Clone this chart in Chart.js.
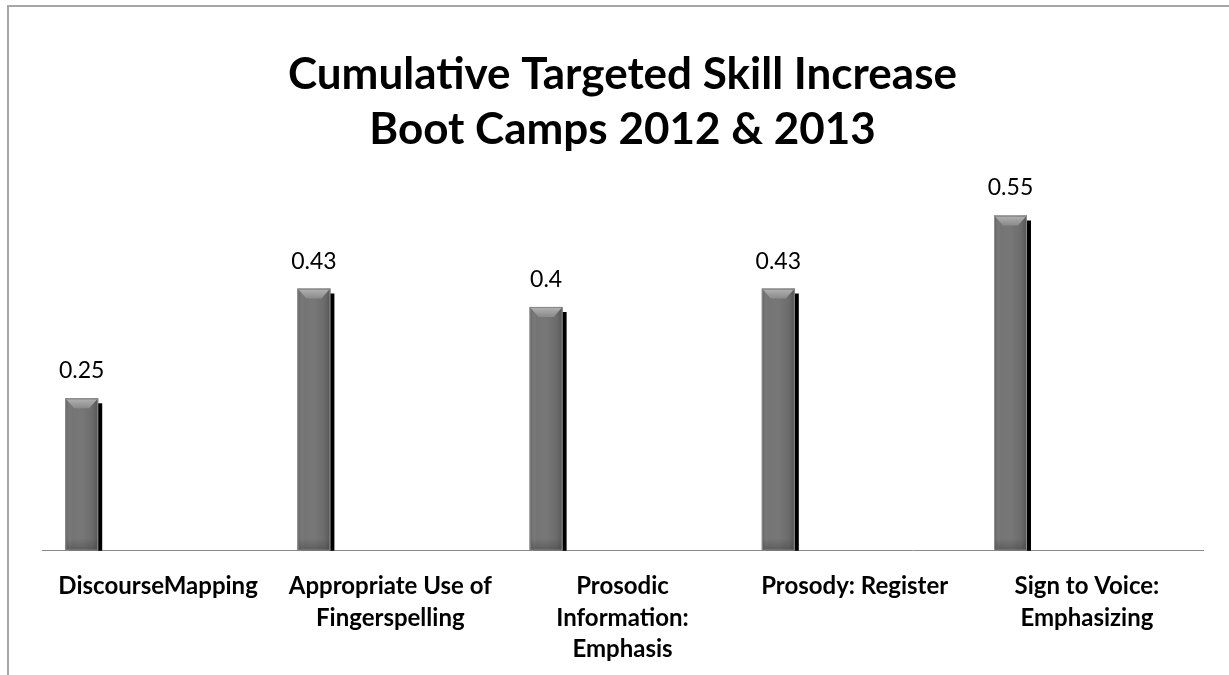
<!DOCTYPE html>
<html>
<head>
<meta charset="utf-8">
<script src="https://cdn.jsdelivr.net/npm/chart.js@4.4.1/dist/chart.umd.min.js"></script>
<style>
  html, body { margin: 0; padding: 0; background: #ffffff; }
  #wrap { position: relative; width: 1229px; height: 675px; }
  canvas { display: block; }
</style>
</head>
<body>
<div id="wrap"><canvas id="c" width="1229" height="675"></canvas></div>
<script>
const titleLines = ['Cumulative Targeted Skill Increase', 'Boot Camps 2012 & 2013'];
const categories = [
  ['DiscourseMapping'],
  ['Appropriate Use of', 'Fingerspelling'],
  ['Prosodic', 'Information:', 'Emphasis'],
  ['Prosody: Register'],
  ['Sign to Voice:', 'Emphasizing']
];
const skillIncrease = [0.25, 0.43, 0.4, 0.43, 0.55];
const valueLabels = ['0.25', '0.43', '0.4', '0.43', '0.55'];

const FONT = 'Lato, "Open Sans", "Liberation Sans", sans-serif';

const framePlugin = {
  id: 'frame',
  beforeDraw(chart) {
    const ctx = chart.ctx;
    ctx.save();
    ctx.strokeStyle = '#a6a6a6';
    ctx.lineWidth = 2;
    ctx.beginPath();
    ctx.moveTo(8, 675);
    ctx.lineTo(8, 6);
    ctx.lineTo(1229, 6);
    ctx.stroke();
    ctx.restore();
  }
};

const shadowPlugin = {
  id: 'barShadow',
  beforeDatasetDraw(chart, args) {
    const ctx = chart.ctx;
    ctx.save();
    ctx.shadowColor = '#000000';
    ctx.shadowOffsetX = 4;
    ctx.shadowOffsetY = 5;
    ctx.shadowBlur = 0;
  },
  afterDatasetDraw(chart, args) {
    chart.ctx.restore();
  }
};

const bevelPlugin = {
  id: 'bevel',
  afterDatasetsDraw(chart) {
    const ctx = chart.ctx;
    const meta = chart.getDatasetMeta(0);
    meta.data.forEach((bar, i) => {
      const w = bar.width;
      const left = bar.x - w / 2, right = bar.x + w / 2;
      const top = bar.y, bottom = bar.base;
      ctx.save();
      // horizontal shading
      const gh = ctx.createLinearGradient(left, 0, right, 0);
      gh.addColorStop(0, 'rgba(40,40,40,0.25)');
      gh.addColorStop(0.2, 'rgba(255,255,255,0.03)');
      gh.addColorStop(0.5, 'rgba(255,255,255,0.05)');
      gh.addColorStop(0.8, 'rgba(40,40,40,0.05)');
      gh.addColorStop(1, 'rgba(20,20,20,0.3)');
      ctx.fillStyle = gh;
      ctx.fillRect(left, top, w, bottom - top);
      // top bevel
      const g = ctx.createLinearGradient(0, top, 0, top + 10);
      g.addColorStop(0, '#b4b4b4');
      g.addColorStop(1, '#8a8a8a');
      ctx.fillStyle = g;
      ctx.beginPath();
      ctx.moveTo(left + 1, top + 1);
      ctx.lineTo(right - 1, top + 1);
      ctx.lineTo(right - 9, top + 10);
      ctx.lineTo(left + 9, top + 10);
      ctx.closePath();
      ctx.fill();
      // bottom darker band
      const gb = ctx.createLinearGradient(0, bottom - 12, 0, bottom);
      gb.addColorStop(0, 'rgba(60,60,60,0)');
      gb.addColorStop(1, 'rgba(60,60,60,0.45)');
      ctx.fillStyle = gb;
      ctx.fillRect(left + 1, bottom - 12, w - 2, 11);
      // edge
      ctx.strokeStyle = '#8c8c8c';
      ctx.lineWidth = 1;
      ctx.strokeRect(left + 0.5, top + 0.5, w - 1, bottom - top - 1);
      ctx.restore();
      // value label
      ctx.save();
      ctx.fillStyle = '#000000';
      ctx.font = '23px ' + FONT;
      ctx.textAlign = 'center';
      ctx.textBaseline = 'alphabetic';
      ctx.fillText(valueLabels[i], bar.x, top - 20);
      ctx.restore();
    });
  }
};

new Chart(document.getElementById('c'), {
  type: 'bar',
  data: {
    labels: categories,
    datasets: [
      { label: 'Skill increase', data: skillIncrease, backgroundColor: '#707070', borderWidth: 0,
        categoryPercentage: 0.987, barPercentage: 0.432 },
      { label: '', data: [], categoryPercentage: 0.987, barPercentage: 0.432 },
      { label: '', data: [], categoryPercentage: 0.987, barPercentage: 0.432 }
    ]
  },
  options: {
    responsive: false,
    animation: false,
    layout: { padding: { left: 42, right: 26, top: 0, bottom: -10 } },
    plugins: {
      legend: { display: false },
      tooltip: { enabled: false },
      title: {
        display: true,
        text: titleLines,
        color: '#000000',
        font: { family: FONT, size: 44, weight: 'bold', lineHeight: 1.25 },
        padding: { top: 47, bottom: 28 }
      }
    },
    scales: {
      x: {
        grid: { display: false, drawTicks: false },
        border: { display: true, color: '#8c8c8c', width: 1 },
        ticks: {
          color: '#000000',
          font: { family: FONT, size: 24, weight: 'bold', lineHeight: 1.31 },
          padding: 20,
          maxRotation: 0,
          autoSkip: false
        }
      },
      y: {
        display: false,
        min: 0,
        max: 0.6
      }
    }
  },
  plugins: [framePlugin, shadowPlugin, bevelPlugin]
});
</script>
</body>
</html>
